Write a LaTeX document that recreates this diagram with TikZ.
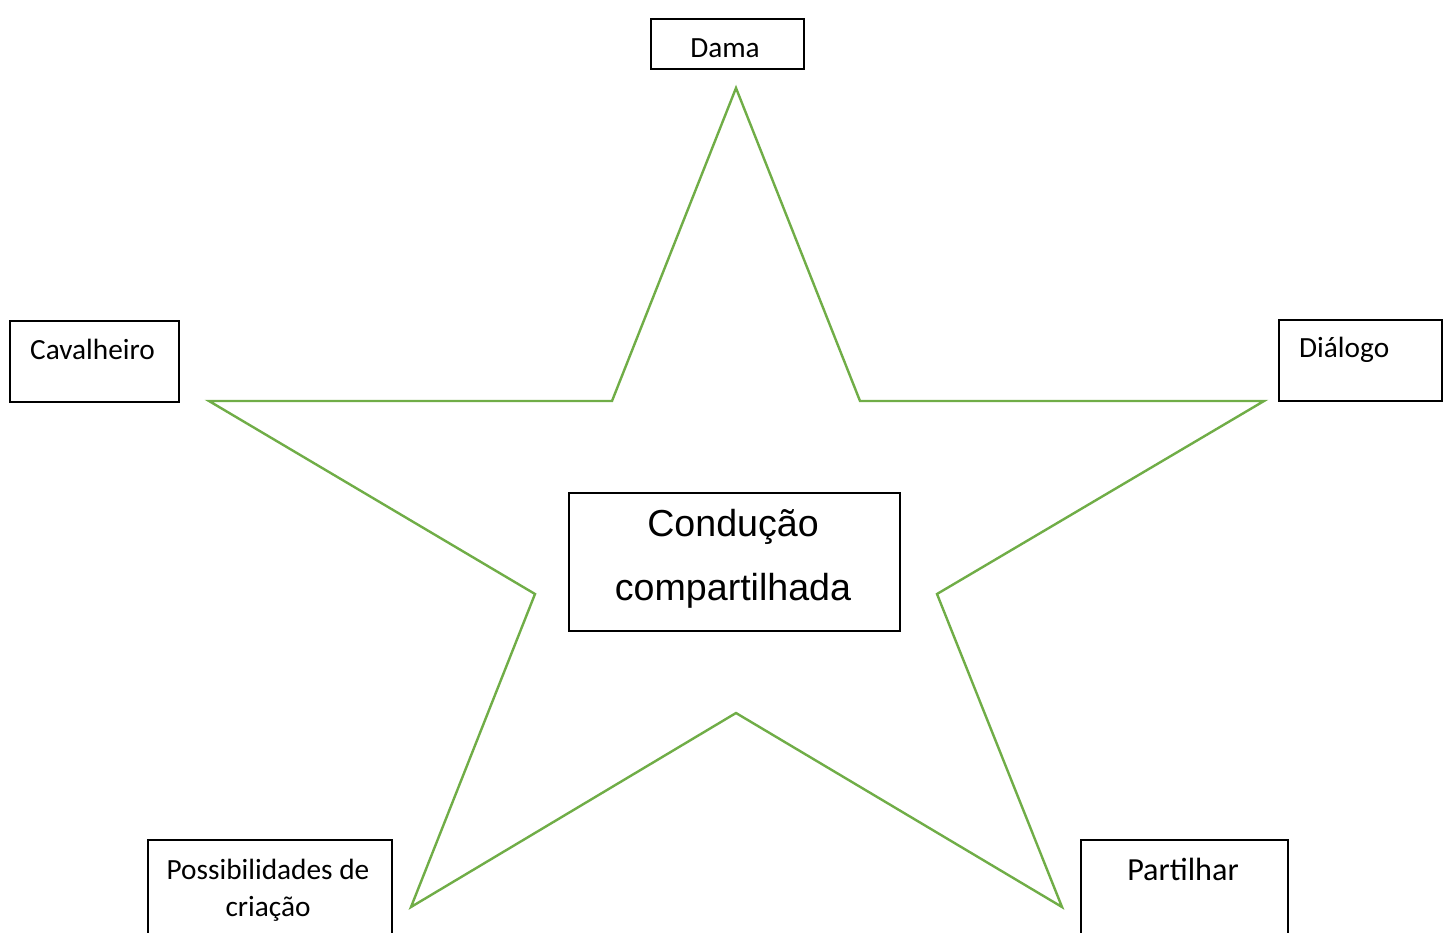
\documentclass[tikz,border=0pt]{standalone}
\usepackage{fontspec}
\setmainfont{Carlito}
\newfontfamily\arialfont{Liberation Sans}
\definecolor{stargreen}{RGB}{112,173,71}
\tikzset{
  box/.style={draw=black, line width=2pt, inner sep=0pt, anchor=north west},
  lbl/.style={inner sep=0pt, font=\fontsize{29.3}{35}\selectfont},
  biglbl/.style={inner sep=0pt, font=\fontsize{32.2}{38}\selectfont},
  cl/.style={inner sep=0pt, font=\arialfont\fontsize{37.6}{45}\selectfont},
  starline/.style={draw=stargreen, line width=2.4pt, line join=miter}
}
\begin{document}
\begin{tikzpicture}[x=1pt,y=-1pt]
\useasboundingbox (0,0) rectangle (1448,933);
\clip (0,0) rectangle (1448,933);
% star
\coordinate (p1) at (736,88);
\coordinate (p2) at (860,401);
\coordinate (p3) at (1264,401);
\coordinate (p4) at (937,594);
\coordinate (p5) at (1062,907);
\coordinate (p6) at (736,713);
\coordinate (p7) at (411,907);
\coordinate (p8) at (535,594);
\coordinate (p9) at (209,401);
\coordinate (p10) at (612,401);
\draw[starline] (p1) -- (p2) -- (p3) -- (p4) -- (p5) -- (p6) -- (p7) -- (p8) -- (p9) -- (p10) -- cycle;
% boxes
\node[box, minimum width=153pt, minimum height=50pt] (dama) at (650,18) {};
\node[lbl] (damat) at (725,48) {Dama};
\node[box, minimum width=169pt, minimum height=81pt] (cav) at (9,320) {};
\node[lbl, anchor=west] (cavt) at (30,349) {Cavalheiro};
\node[box, minimum width=163pt, minimum height=81pt] (dia) at (1278,319) {};
\node[lbl, anchor=west] (diat) at (1299,349.5) {Diálogo};
\node[box, minimum width=244pt, minimum height=140pt] (pos) at (147,839) {};
\node[lbl] (post1) at (268,869) {Possibilidades de};
\node[lbl] (post2) at (268,909) {criação};
\node[box, minimum width=207pt, minimum height=140pt] (par) at (1080,839) {};
\node[biglbl] (part) at (1183,869) {Partilhar};
\node[box, minimum width=331pt, minimum height=138pt] (cen) at (568,492) {};
\node[cl] (cent1) at (733,527) {Condução};
\node[cl] (cent2) at (733,591) {compartilhada};
\end{tikzpicture}
\end{document}
